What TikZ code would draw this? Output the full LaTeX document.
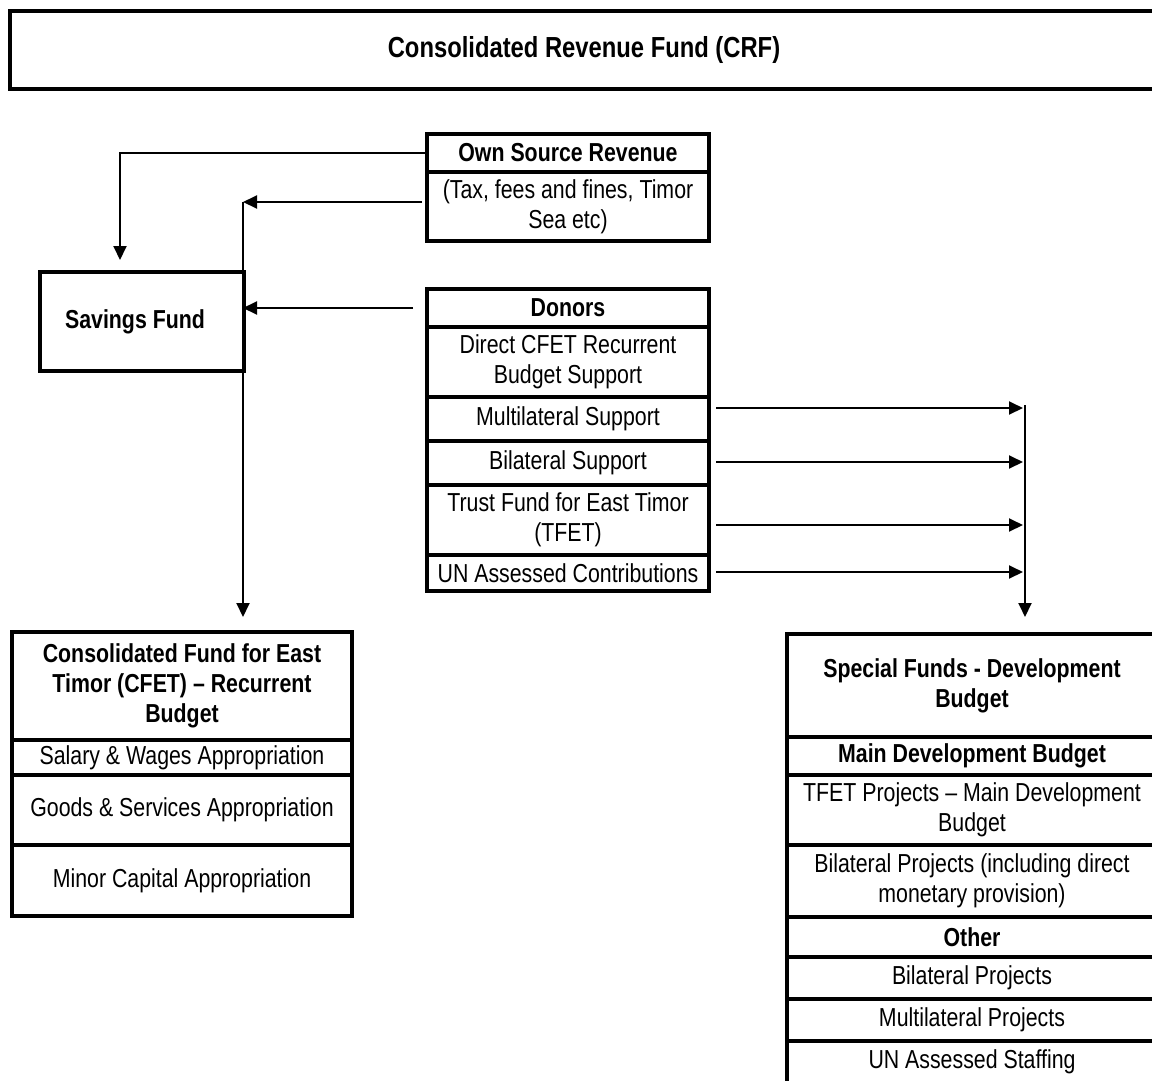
\documentclass[tikz,border=0pt]{standalone}
\usepackage{fontspec}
\setmainfont{Liberation Sans}[FakeStretch=0.82]
\usetikzlibrary{positioning,arrows.meta}

\begin{document}
\begin{tikzpicture}[x=1pt,y=-1pt,node distance=0pt,
	cell/.style={draw, line width=4.5pt, outer sep=0pt, inner sep=0pt, align=center, font=\fontsize{26}{30}\selectfont},
	head/.style={cell, font=\fontsize{26}{30}\selectfont\bfseries},
	flow/.style={line width=1.9pt, -{Triangle[length=14pt,width=13pt]}}]
	\clip (0,0) rectangle (1152,1080);
	\useasboundingbox (0,0) rectangle (1152,1080);
	% Top fund
	\node[head, minimum width=1148pt, minimum height=78pt, font=\fontsize{29}{33}\selectfont\bfseries] (crf) at (584,50) {Consolidated Revenue Fund (CRF)};
	% Revenue sources
	\node[head, minimum width=282pt, minimum height=38pt] (own) at (568,153) {Own Source Revenue};
	\node[cell, minimum width=282pt, minimum height=69pt, below=of own] (tax) {(Tax, fees and fines, Timor\\Sea etc)};
	\node[head, minimum width=204pt, minimum height=99pt] (save) at (142,321.5) {\hspace*{-14pt}Savings Fund};
	\node[head, minimum width=282pt, minimum height=38pt] (don) at (568,308) {Donors};
	\node[cell, minimum width=282pt, minimum height=70pt, below=of don] (direct) {Direct CFET Recurrent\\Budget Support};
	\node[cell, minimum width=282pt, minimum height=44pt, below=of direct] (multi) {Multilateral Support};
	\node[cell, minimum width=282pt, minimum height=44pt, below=of multi] (bi) {Bilateral Support};
	\node[cell, minimum width=282pt, minimum height=70pt, below=of bi] (tfet) {Trust Fund for East Timor\\(TFET)};
	\node[cell, minimum width=282pt, minimum height=36pt, below=of tfet] (un) {UN Assessed Contributions};
	% Recurrent budget
	\node[head, minimum width=340pt, minimum height=108pt] (cfet) at (182,686) {Consolidated Fund for East\\Timor (CFET) – Recurrent\\Budget};
	\node[cell, minimum width=340pt, minimum height=35pt, below=of cfet] (sal) {Salary \& Wages Appropriation};
	\node[cell, minimum width=340pt, minimum height=70pt, below=of sal] (goods) {Goods \& Services Appropriation};
	\node[cell, minimum width=340pt, minimum height=71pt, below=of goods] (minor) {Minor Capital Appropriation};
	% Development budget
	\node[head, minimum width=370pt, minimum height=103pt] (sf) at (972,685.5) {Special Funds - Development\\Budget};
	\node[head, minimum width=370pt, minimum height=38pt, below=of sf] (main) {Main Development Budget};
	\node[cell, minimum width=370pt, minimum height=70pt, below=of main] (tproj) {TFET Projects – Main Development\\Budget};
	\node[cell, minimum width=370pt, minimum height=72pt, below=of tproj] (bproj) {Bilateral Projects (including direct\\monetary provision)};
	\node[head, minimum width=370pt, minimum height=40pt, below=of bproj] (other) {Other};
	\node[cell, minimum width=370pt, minimum height=42pt, below=of other] (bilat) {Bilateral Projects};
	\node[cell, minimum width=370pt, minimum height=42pt, below=of bilat] (multp) {Multilateral Projects};
	\node[cell, minimum width=370pt, minimum height=42pt, below=of multp] (unstaff) {UN Assessed Staffing};
	% Flows
	\coordinate (jl) at (243,202);
	\coordinate (jr) at (1025,405);
	\draw[flow, shorten >=12pt] (own.west) -| ([xshift=-22pt]save.north);
	\draw[flow, shorten <=5pt] (tax.west |- jl) -- (jl);
	\draw[flow, shorten <=14pt] (don.west) -- (don.west -| jl);
	\draw[flow, shorten >=15pt] (jl) -- (jl |- cfet.north);
	\foreach \r/\dy in {multi/11,bi/1,tfet/-5,un/1}
		\draw[flow, shorten <=7pt, shorten >=2pt] ([yshift=\dy pt]\r.east) -- ([yshift=\dy pt]\r.east -| jr);
	\draw[flow, shorten >=17pt] (jr) -- (jr |- sf.north);
\end{tikzpicture}
\end{document}
